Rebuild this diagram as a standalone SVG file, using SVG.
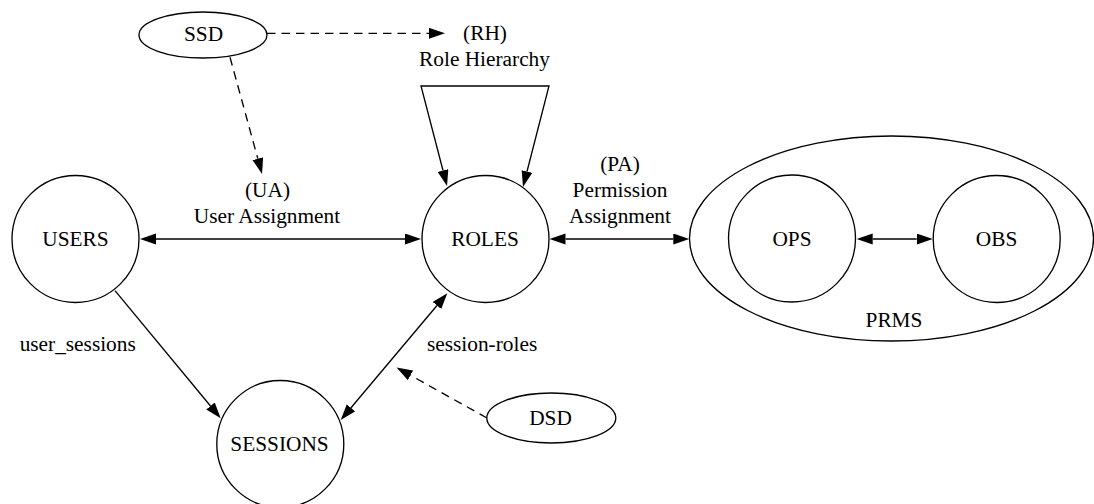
<svg xmlns="http://www.w3.org/2000/svg" width="1094" height="504" viewBox="0 0 1094 504">
<defs>
<style>
.n{fill:none;stroke:#000;stroke-width:1.33}
.t{font-family:"Liberation Serif","Times New Roman",serif;font-size:21.33px;fill:#000;text-anchor:middle}
.e{fill:none;stroke:#000;stroke-width:1.33}
.d{stroke-dasharray:8.5,6}
.a1{marker-end:url(#ah)}
.a2{marker-start:url(#ah);marker-end:url(#ah)}
</style>
<marker id="ah" markerUnits="userSpaceOnUse" markerWidth="17" markerHeight="12" refX="0" refY="5.5" orient="auto-start-reverse" viewBox="0 0 17 12">
<path d="M0,0 L16,5.5 L0,11 z" fill="#000" stroke="none"/>
</marker>
</defs>
<rect width="1094" height="504" fill="#fff"/>

<g id="connectors">
<line class="e a2" x1="156" y1="239" x2="405" y2="239"/>
<line class="e a1" x1="115" y1="290.7" x2="210.5" y2="406"/>
<line class="e a2" x1="351" y1="407.8" x2="437" y2="305.5"/>
<line class="e d a1" x1="487" y1="418" x2="410.5" y2="375.3"/>
<line class="e d a1" x1="267" y1="33.3" x2="429" y2="33.3"/>
<line class="e d a1" x1="230" y1="57.3" x2="257.8" y2="158.6"/>
<path class="e a2" d="M443,170.5 L421,86 L549,86 L527,171.5"/>
<line class="e a2" x1="565.5" y1="239" x2="673.3" y2="239"/>
<line class="e a2" x1="872.7" y1="239" x2="916.7" y2="239"/>
<text class="t" x="267.5" y="196.7">(UA)</text>
<text class="t" x="267" y="222.7">User Assignment</text>
<text class="t" x="485" y="40">(RH)</text>
<text class="t" x="484.5" y="66">Role Hierarchy</text>
<text class="t" x="620" y="170.7">(PA)</text>
<text class="t" x="620" y="196.7">Permission</text>
<text class="t" x="620" y="222.7">Assignment</text>
<text class="t" x="77.7" y="350.7">user_sessions</text>
<text class="t" x="427" y="350.7" style="text-anchor:start">session-roles</text>
</g>

<g id="PRMS">
<ellipse class="n" cx="891.5" cy="238.5" rx="202" ry="102.5"/>
<text class="t" x="894" y="327.3">PRMS</text>
</g>
<g id="USERS">
<circle class="n" cx="75.5" cy="239" r="63.5"/>
<text class="t" x="75.5" y="246">USERS</text>
</g>
<g id="ROLES">
<circle class="n" cx="485.5" cy="239" r="63.5"/>
<text class="t" x="485" y="246">ROLES</text>
</g>
<g id="SESSIONS">
<circle class="n" cx="280.3" cy="444" r="63.5"/>
<text class="t" x="279.5" y="451">SESSIONS</text>
</g>
<g id="OPS">
<circle class="n" cx="792" cy="238.5" r="63.5"/>
<text class="t" x="792" y="246">OPS</text>
</g>
<g id="OBS">
<circle class="n" cx="996.7" cy="239" r="63.5"/>
<text class="t" x="996.5" y="246">OBS</text>
</g>
<g id="SSD">
<ellipse class="n" cx="203" cy="35" rx="64" ry="23"/>
<text class="t" x="203.5" y="41">SSD</text>
</g>
<g id="DSD">
<ellipse class="n" cx="551.3" cy="418" rx="64.5" ry="25"/>
<text class="t" x="550.5" y="425">DSD</text>
</g>
</svg>
